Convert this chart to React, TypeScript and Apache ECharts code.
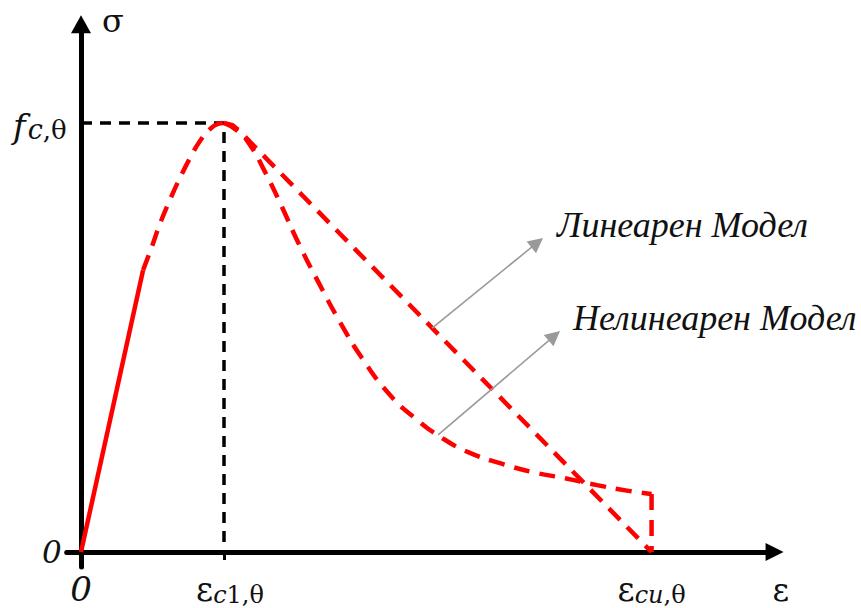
import React, { useEffect, useRef } from 'react';
import * as echarts from 'echarts';

// Strain is expressed in multiples of ε_c1,θ, stress in multiples of f_c,θ.
const xTickValues: number[] = [0, 1, 3.99];
const yTickValues: number[] = [0, 1];

// Ascending branch: straight elastic part, then curved up to the peak.
const risingLinear: number[][] = [[0, 0], [0.434, 0.657]];
const risingCurve: number[][] = [
  [0.434, 0.657], [0.497, 0.713], [0.552, 0.765], [0.622, 0.821],
  [0.692, 0.872], [0.762, 0.918], [0.832, 0.958], [0.902, 0.986],
  [0.958, 0.998], [1, 1],
];

// Softening branch, linear model.
const linearModel: number[][] = [
  [1, 1], [1.06, 0.995], [1.12, 0.978], [1.182, 0.956], [3.99, 0],
];

// Softening branch, nonlinear model, then the drop at ε_cu,θ.
const nonlinearModel: number[][] = [
  [1, 1], [1.098, 0.981], [1.182, 0.949], [1.287, 0.886], [1.392, 0.814],
  [1.531, 0.713], [1.671, 0.622], [1.811, 0.536], [1.965, 0.452],
  [2.161, 0.366], [2.336, 0.312], [2.524, 0.266], [2.72, 0.231],
  [2.93, 0.207], [3.161, 0.186], [3.385, 0.172], [3.608, 0.156],
  [3.839, 0.142], [3.99, 0.135],
];
const nonlinearDrop: number[][] = [[3.99, 0.135], [3.99, 0]];

// Guide lines to the peak point (ε_c1,θ ; f_c,θ).
const peakGuide: number[][] = [[0, 1], [1, 1], [1, 0]];

// Pointer arrows for the two model captions.
const pointerLinear: number[][] = [[2.455, 0.522], [3.19, 0.721]];
const pointerNonlinear: number[][] = [[2.497, 0.273], [3.31, 0.504]];

const captionLinear = 'Линеарен Модел';
const captionNonlinear = 'Нелинеарен Модел';

const RED = '#ff0000';
const INK = '#111111';
const MATH = '"DejaVu Serif", serif';

export default function App() {
  const ref = useRef<HTMLDivElement>(null);

  useEffect(() => {
    if (!ref.current) return;
    const chart = echarts.init(ref.current, null, { renderer: 'svg' });

    const redDash = { color: RED, width: 4.5, type: [16, 10] as number[], cap: 'butt' as const };

    chart.setOption({
      animation: false,
      backgroundColor: '#ffffff',
      grid: {
        left: 66.7,
        right: 86.45,
        top: 24.33,
        bottom: 40.97,
        containLabel: false,
        outerBoundsMode: 'none',
      },
      xAxis: {
        type: 'value',
        min: -0.1,
        max: 4.85,
        splitLine: { show: false },
        axisLine: {
          onZero: true,
          symbol: ['none', 'triangle'],
          symbolSize: [18, 18],
          lineStyle: { color: '#000', width: 5 },
        },
        axisTick: {
          show: true,
          customValues: [1],
          length: 8,
          lineStyle: { color: '#000', width: 3 },
        },
        axisLabel: {
          customValues: xTickValues,
          margin: 0,
          color: INK,
          formatter: (v: number) => {
            if (Math.abs(v) < 1e-6) return '{z|0}';
            if (Math.abs(v - 1) < 1e-6) return '{e1|ε}{si|c}{s|1,θ}';
            return '{e|ε}{si|cu}{s|,θ}';
          },
          rich: {
            z: { fontFamily: MATH, fontStyle: 'italic', fontSize: 34, color: INK, verticalAlign: 'top', padding: [5, 0, 0, 0] },
            e: { fontFamily: MATH, fontSize: 33, color: INK, verticalAlign: 'top', padding: [6, 0, 0, 0] },
            e1: { fontFamily: MATH, fontSize: 33, color: INK, verticalAlign: 'top', padding: [6, 0, 0, 12] },
            si: { fontFamily: MATH, fontStyle: 'italic', fontSize: 24, color: INK, verticalAlign: 'top', padding: [16, 0, 0, 0] },
            s: { fontFamily: MATH, fontSize: 24, color: INK, verticalAlign: 'top', padding: [16, 0, 0, 0] },
          },
        },
        name: 'ε',
        nameLocation: 'end',
        nameGap: -2,
        nameTextStyle: {
          fontFamily: MATH,
          fontSize: 32,
          color: INK,
          align: 'left',
          verticalAlign: 'top',
          padding: [22, 0, 0, 0],
        },
      },
      yAxis: {
        type: 'value',
        min: -0.035,
        max: 1.23,
        splitLine: { show: false },
        axisLine: {
          onZero: true,
          symbol: ['none', 'triangle'],
          symbolSize: [20, 18],
          lineStyle: { color: '#000', width: 5 },
        },
        axisTick: { show: false },
        axisLabel: {
          customValues: yTickValues,
          margin: 0,
          color: INK,
          formatter: (v: number) => (Math.abs(v) < 1e-6 ? '{z|0}' : '{f|f}{c|c}{t|,θ}'),
          rich: {
            z: { fontFamily: MATH, fontStyle: 'italic', fontSize: 31, color: INK, padding: [0, 5, 0, 0] },
            f: { fontFamily: MATH, fontStyle: 'italic', fontSize: 34, color: INK, lineHeight: 40, verticalAlign: 'bottom', padding: [0, 2, 0, 0] },
            c: { fontFamily: MATH, fontStyle: 'italic', fontSize: 27, color: INK, lineHeight: 30.6, verticalAlign: 'bottom' },
            t: { fontFamily: MATH, fontSize: 26, color: INK, lineHeight: 30, verticalAlign: 'bottom' },
          },
        },
        name: 'σ',
        nameLocation: 'end',
        nameGap: 3,
        nameTextStyle: {
          fontFamily: MATH,
          fontSize: 32,
          color: INK,
          align: 'left',
          verticalAlign: 'middle',
          padding: [0, 0, 0, 21],
        },
      },
      graphic: [
        {
          type: 'text',
          left: 557,
          top: 207,
          style: {
            text: captionLinear,
            font: 'italic 36px "Liberation Serif", serif',
            fill: INK,
          },
        },
        {
          type: 'text',
          left: 573,
          top: 300,
          style: {
            text: captionNonlinear,
            font: 'italic 36px "Liberation Serif", serif',
            fill: INK,
          },
        },
      ],
      series: [
        {
          type: 'line',
          data: peakGuide,
          showSymbol: false,
          silent: true,
          z: 1,
          lineStyle: { color: '#000', width: 3.5, type: [11, 8] },
        },
        {
          type: 'line',
          data: risingLinear,
          showSymbol: false,
          z: 3,
          lineStyle: { color: RED, width: 4.5 },
        },
        {
          type: 'line',
          data: risingCurve,
          showSymbol: false,
          smooth: true,
          z: 3,
          lineStyle: redDash,
        },
        {
          type: 'line',
          data: linearModel,
          showSymbol: false,
          z: 3,
          lineStyle: redDash,
        },
        {
          type: 'line',
          data: nonlinearModel,
          showSymbol: false,
          smooth: true,
          z: 3,
          lineStyle: redDash,
        },
        {
          type: 'line',
          data: nonlinearDrop,
          showSymbol: false,
          z: 3,
          lineStyle: redDash,
        },
        {
          type: 'lines',
          coordinateSystem: 'cartesian2d',
          z: 4,
          symbol: ['none', 'triangle'],
          symbolSize: 15,
          lineStyle: { color: '#9a9a9a', width: 1.6, opacity: 1 },
          data: [{ coords: pointerLinear }, { coords: pointerNonlinear }],
        },
      ],
    });

    return () => chart.dispose();
  }, []);

  return (
    <div
      ref={ref}
      style={{ position: 'fixed', left: 0, top: 0, width: 861, height: 608 }}
    />
  );
}
